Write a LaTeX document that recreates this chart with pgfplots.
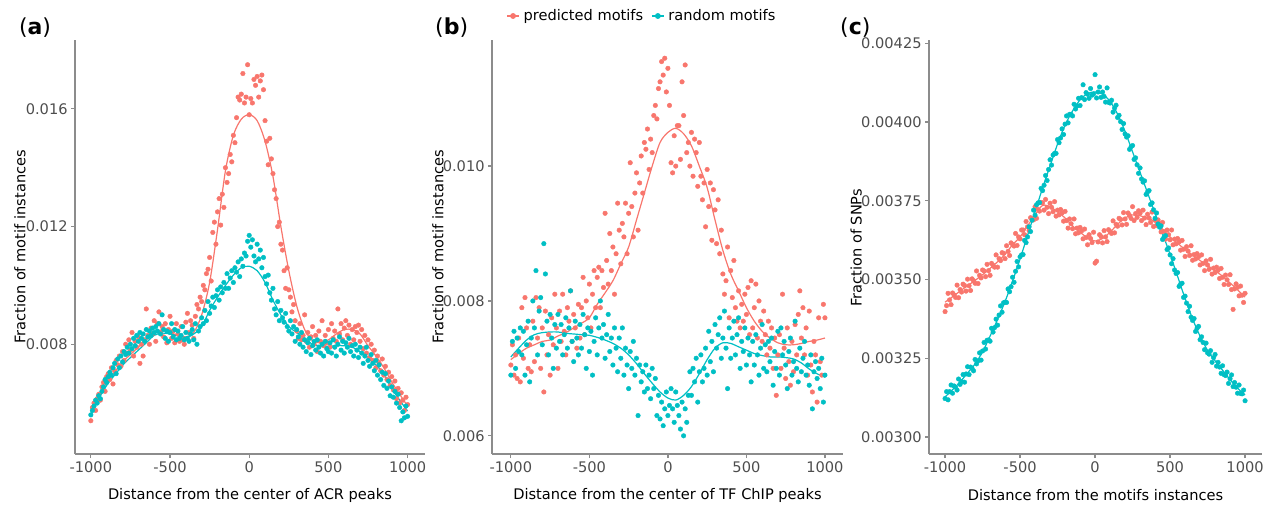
\documentclass[border=0pt]{standalone}
\usepackage{fontspec}
\setmainfont{DejaVu Sans}
\usepackage{pgfplots}
\usepackage{pgfplotstable}
\pgfplotsset{compat=1.18}
\definecolor{pred}{HTML}{F8766D}
\definecolor{rand}{HTML}{00BFC4}
\definecolor{axgray}{HTML}{8C8C8C}
\definecolor{tickgray}{HTML}{4D4D4D}

% panel (a): binned fractions, x p(predicted) r(random)
\pgfplotstableread{
x p r
-1000 0.00540 0.00560
-990 0.00585 0.00575
-980 0.00600 0.00590
-970 0.00575 0.00610
-960 0.00615 0.00600
-950 0.00630 0.00625
-940 0.00610 0.00615
-930 0.00655 0.00640
-920 0.00670 0.00655
-910 0.00640 0.00680
-900 0.00690 0.00670
-890 0.00700 0.00690
-880 0.00680 0.00705
-870 0.00720 0.00695
-860 0.00665 0.00720
-850 0.00710 0.00735
-840 0.00745 0.00700
-830 0.00730 0.00750
-820 0.00760 0.00720
-810 0.00725 0.00760
-800 0.00775 0.00740
-790 0.00745 0.00775
-780 0.00800 0.00765
-770 0.00770 0.00790
-760 0.00815 0.00770
-750 0.00780 0.00800
-740 0.00840 0.00785
-730 0.00760 0.00820
-720 0.00810 0.00795
-710 0.00790 0.00830
-700 0.00825 0.00810
-690 0.00735 0.00840
-680 0.00800 0.00820
-670 0.00760 0.00835
-660 0.00815 0.00810
-650 0.00920 0.00850
-640 0.00830 0.00825
-630 0.00800 0.00845
-620 0.00855 0.00830
-610 0.00835 0.00855
-600 0.00880 0.00840
-590 0.00810 0.00860
-580 0.00870 0.00845
-570 0.00910 0.00870
-560 0.00840 0.00835
-550 0.00860 0.00900
-540 0.00825 0.00850
-530 0.00870 0.00820
-520 0.00805 0.00845
-510 0.00850 0.00810
-500 0.00895 0.00840
-490 0.00820 0.00870
-480 0.00845 0.00825
-470 0.00805 0.00850
-460 0.00870 0.00815
-450 0.00835 0.00845
-440 0.00810 0.00820
-430 0.00860 0.00830
-420 0.00815 0.00860
-410 0.00800 0.00815
-400 0.00875 0.00840
-390 0.00905 0.00820
-380 0.00840 0.00810
-370 0.00880 0.00835
-360 0.00865 0.00850
-350 0.00820 0.00815
-340 0.00895 0.00870
-330 0.00935 0.00800
-320 0.00920 0.00845
-310 0.00960 0.00860
-300 0.00945 0.00890
-290 0.01000 0.00870
-280 0.00985 0.00915
-270 0.01040 0.00880
-260 0.01055 0.00945
-250 0.01095 0.00905
-240 0.01015 0.00930
-230 0.01180 0.00960
-220 0.01215 0.00925
-210 0.01140 0.00965
-200 0.01250 0.00985
-190 0.01295 0.00950
-180 0.01205 0.00995
-170 0.01310 0.00975
-160 0.01265 0.01010
-150 0.01400 0.00990
-140 0.01350 0.01040
-130 0.01380 0.00990
-120 0.01445 0.01025
-110 0.01420 0.01050
-100 0.01510 0.01010
-90 0.01485 0.01060
-80 0.01570 0.01045
-70 0.01640 0.01080
-60 0.01630 0.01030
-50 0.01650 0.01090
-40 0.01720 0.01065
-30 0.01620 0.01110
-20 0.01640 0.01100
-10 0.01750 0.01150
0 0.01580 0.01170
10 0.01635 0.01130
20 0.01620 0.01155
30 0.01700 0.01100
40 0.01680 0.01080
50 0.01710 0.01140
60 0.01640 0.01090
70 0.01695 0.01120
80 0.01715 0.01060
90 0.01665 0.01095
100 0.01560 0.01030
110 0.01490 0.01005
120 0.01410 0.01035
130 0.01500 0.00975
140 0.01430 0.00950
150 0.01380 0.00990
160 0.01325 0.00920
170 0.01295 0.00900
180 0.01200 0.00945
190 0.01215 0.00880
200 0.01140 0.00915
210 0.01120 0.00890
220 0.01050 0.00875
230 0.00990 0.00905
240 0.01060 0.00860
250 0.00985 0.00845
260 0.00960 0.00880
270 0.00910 0.00835
280 0.00935 0.00860
290 0.00880 0.00810
300 0.00845 0.00850
310 0.00820 0.00825
320 0.00870 0.00800
330 0.00815 0.00840
340 0.00830 0.00790
350 0.00900 0.00815
360 0.00810 0.00775
370 0.00840 0.00805
380 0.00790 0.00820
390 0.00825 0.00765
400 0.00860 0.00795
410 0.00800 0.00810
420 0.00830 0.00780
430 0.00775 0.00815
440 0.00845 0.00790
450 0.00810 0.00770
460 0.00880 0.00800
470 0.00795 0.00760
480 0.00830 0.00810
490 0.00805 0.00785
500 0.00850 0.00775
510 0.00790 0.00805
520 0.00870 0.00770
530 0.00820 0.00815
540 0.00845 0.00790
550 0.00810 0.00760
560 0.00920 0.00800
570 0.00835 0.00825
580 0.00870 0.00780
590 0.00815 0.00810
600 0.00855 0.00770
610 0.00880 0.00805
620 0.00830 0.00790
630 0.00865 0.00820
640 0.00800 0.00775
650 0.00850 0.00795
660 0.00815 0.00760
670 0.00860 0.00800
680 0.00840 0.00780
690 0.00865 0.00755
700 0.00810 0.00790
710 0.00850 0.00770
720 0.00785 0.00735
730 0.00830 0.00760
740 0.00770 0.00790
750 0.00815 0.00745
760 0.00755 0.00725
770 0.00800 0.00765
780 0.00745 0.00735
790 0.00780 0.00710
800 0.00720 0.00745
810 0.00760 0.00695
820 0.00735 0.00730
830 0.00710 0.00680
840 0.00750 0.00705
850 0.00695 0.00660
860 0.00725 0.00700
870 0.00680 0.00650
880 0.00705 0.00675
890 0.00660 0.00625
900 0.00690 0.00655
910 0.00645 0.00620
920 0.00675 0.00640
930 0.00615 0.00600
940 0.00650 0.00630
950 0.00600 0.00585
960 0.00635 0.00540
970 0.00610 0.00570
980 0.00575 0.00550
990 0.00620 0.00590
1000 0.00595 0.00555
}\dataA

\pgfplotstableread{
x p r
-1000 0.00580 0.00560
-950 0.00625 0.00615
-900 0.00670 0.00660
-850 0.00705 0.00695
-800 0.00740 0.00728
-750 0.00765 0.00755
-700 0.00790 0.00780
-650 0.00815 0.00805
-600 0.00835 0.00830
-550 0.00850 0.00838
-500 0.00840 0.00835
-450 0.00830 0.00828
-400 0.00825 0.00823
-350 0.00840 0.00835
-300 0.00900 0.00860
-250 0.01010 0.00915
-200 0.01190 0.00960
-150 0.01390 0.01000
-100 0.01510 0.01035
-50 0.01565 0.01060
0 0.01580 0.01065
50 0.01560 0.01050
100 0.01490 0.01010
150 0.01370 0.00950
200 0.01200 0.00900
250 0.01050 0.00860
300 0.00930 0.00840
350 0.00850 0.00820
400 0.00812 0.00800
450 0.00805 0.00795
500 0.00815 0.00793
550 0.00835 0.00795
600 0.00850 0.00795
650 0.00850 0.00790
700 0.00835 0.00775
750 0.00795 0.00755
800 0.00760 0.00730
850 0.00720 0.00700
900 0.00672 0.00650
950 0.00630 0.00610
1000 0.00590 0.00573
}\fitA

% panel (b)
\pgfplotstableread{
x p r
-1000 0.00705 0.00690
-990 0.00735 0.00740
-980 0.00690 0.00755
-970 0.00720 0.00700
-960 0.00685 0.00745
-950 0.00745 0.00725
-940 0.00680 0.00760
-930 0.00790 0.00720
-920 0.00715 0.00755
-910 0.00805 0.00690
-900 0.00760 0.00735
-890 0.00700 0.00770
-880 0.00735 0.00680
-870 0.00695 0.00745
-860 0.00770 0.00800
-850 0.00710 0.00760
-840 0.00805 0.00845
-830 0.00745 0.00720
-820 0.00790 0.00785
-810 0.00700 0.00805
-800 0.00760 0.00735
-790 0.00665 0.00885
-780 0.00785 0.00840
-770 0.00720 0.00770
-760 0.00750 0.00720
-750 0.00690 0.00780
-740 0.00775 0.00745
-730 0.00735 0.00700
-720 0.00810 0.00765
-710 0.00760 0.00730
-700 0.00700 0.00780
-690 0.00785 0.00740
-680 0.00740 0.00765
-670 0.00810 0.00720
-660 0.00755 0.00750
-650 0.00720 0.00775
-640 0.00790 0.00730
-630 0.00770 0.00760
-620 0.00815 0.00815
-610 0.00740 0.00740
-600 0.00780 0.00710
-590 0.00760 0.00770
-580 0.00730 0.00745
-570 0.00795 0.00720
-560 0.00745 0.00765
-550 0.00790 0.00730
-540 0.00835 0.00780
-530 0.00750 0.00750
-520 0.00800 0.00700
-510 0.00775 0.00760
-500 0.00825 0.00725
-490 0.00760 0.00755
-480 0.00810 0.00690
-470 0.00845 0.00740
-460 0.00790 0.00775
-450 0.00835 0.00720
-440 0.00850 0.00760
-430 0.00790 0.00800
-420 0.00845 0.00745
-410 0.00820 0.00765
-400 0.00930 0.00715
-390 0.00860 0.00750
-380 0.00825 0.00780
-370 0.00900 0.00725
-360 0.00845 0.00745
-350 0.00880 0.00705
-340 0.00810 0.00760
-330 0.00870 0.00730
-320 0.00945 0.00695
-310 0.00905 0.00745
-300 0.00855 0.00715
-290 0.00915 0.00760
-280 0.00895 0.00690
-270 0.00945 0.00730
-260 0.00870 0.00705
-250 0.00930 0.00670
-240 0.01005 0.00725
-230 0.00940 0.00700
-220 0.00895 0.00740
-210 0.00960 0.00690
-200 0.00990 0.00715
-190 0.00905 0.00630
-180 0.00975 0.00705
-170 0.01015 0.00680
-160 0.00960 0.00695
-150 0.01035 0.00665
-140 0.01025 0.00705
-130 0.01055 0.00670
-120 0.00995 0.00690
-110 0.01040 0.00655
-100 0.01020 0.00700
-90 0.01075 0.00670
-80 0.01090 0.00685
-70 0.01070 0.00630
-60 0.01115 0.00660
-50 0.01125 0.00625
-40 0.01155 0.00650
-30 0.01135 0.00615
-20 0.01160 0.00640
-10 0.01110 0.00665
0 0.01145 0.00630
10 0.01090 0.00645
20 0.01005 0.00670
30 0.00990 0.00640
40 0.01045 0.00620
50 0.01000 0.00665
60 0.01060 0.00645
70 0.01060 0.00630
80 0.01010 0.00610
90 0.01125 0.00650
100 0.01075 0.00600
110 0.01150 0.00640
120 0.01020 0.00620
130 0.01035 0.00660
140 0.01000 0.00695
150 0.01050 0.00660
160 0.00985 0.00700
170 0.01040 0.00680
180 0.01020 0.00715
190 0.00970 0.00650
200 0.01035 0.00695
210 0.00985 0.00720
220 0.00950 0.00680
230 0.00975 0.00700
240 0.00910 0.00730
250 0.00995 0.00690
260 0.00940 0.00755
270 0.00975 0.00710
280 0.00890 0.00740
290 0.00965 0.00695
300 0.00935 0.00765
310 0.00885 0.00730
320 0.00950 0.00750
330 0.00870 0.00775
340 0.00905 0.00715
350 0.00840 0.00745
360 0.00810 0.00785
370 0.00830 0.00730
380 0.00880 0.00670
390 0.00775 0.00760
400 0.00845 0.00715
410 0.00805 0.00745
420 0.00860 0.00770
430 0.00790 0.00720
440 0.00770 0.00750
450 0.00815 0.00775
460 0.00760 0.00700
470 0.00795 0.00740
480 0.00770 0.00725
490 0.00810 0.00760
500 0.00780 0.00705
510 0.00820 0.00745
520 0.00750 0.00720
530 0.00830 0.00680
540 0.00760 0.00740
550 0.00790 0.00705
560 0.00825 0.00750
570 0.00745 0.00720
580 0.00800 0.00690
590 0.00770 0.00730
600 0.00740 0.00765
610 0.00785 0.00700
620 0.00750 0.00735
630 0.00720 0.00695
640 0.00770 0.00740
650 0.00730 0.00710
660 0.00760 0.00745
670 0.00700 0.00675
680 0.00745 0.00725
690 0.00660 0.00700
700 0.00720 0.00755
710 0.00750 0.00690
720 0.00700 0.00760
730 0.00810 0.00720
740 0.00730 0.00740
750 0.00685 0.00705
760 0.00760 0.00670
770 0.00710 0.00725
780 0.00675 0.00745
790 0.00740 0.00690
800 0.00695 0.00710
810 0.00765 0.00770
820 0.00720 0.00700
830 0.00780 0.00680
840 0.00815 0.00730
850 0.00745 0.00695
860 0.00790 0.00715
870 0.00720 0.00740
880 0.00760 0.00690
890 0.00690 0.00705
900 0.00785 0.00675
910 0.00705 0.00720
920 0.00665 0.00640
930 0.00740 0.00695
940 0.00720 0.00710
950 0.00650 0.00685
960 0.00775 0.00700
970 0.00710 0.00670
980 0.00690 0.00715
990 0.00795 0.00650
1000 0.00775 0.00690
}\dataB

\pgfplotstableread{
x p r
-1000 0.00713 0.00717
-950 0.00722 0.00730
-900 0.00730 0.00742
-850 0.00735 0.00750
-800 0.00740 0.00753
-750 0.00742 0.00754
-700 0.00748 0.00754
-650 0.00753 0.00752
-600 0.00760 0.00751
-550 0.00767 0.00750
-500 0.00775 0.00749
-450 0.00795 0.00746
-400 0.00812 0.00742
-350 0.00830 0.00737
-300 0.00855 0.00730
-250 0.00880 0.00720
-200 0.00920 0.00707
-150 0.00960 0.00692
-100 0.01000 0.00678
-50 0.01035 0.00665
0 0.01050 0.00656
50 0.01056 0.00653
100 0.01048 0.00660
150 0.01030 0.00673
200 0.01000 0.00692
250 0.00968 0.00713
300 0.00920 0.00730
350 0.00875 0.00738
400 0.00840 0.00737
450 0.00815 0.00732
500 0.00790 0.00727
550 0.00770 0.00722
600 0.00755 0.00719
650 0.00745 0.00717
700 0.00738 0.00717
750 0.00735 0.00716
800 0.00735 0.00714
850 0.00737 0.00708
900 0.00740 0.00699
950 0.00742 0.00692
1000 0.00745 0.00687
}\fitB

% panel (c)
\pgfplotstableread{
x p r
-1000 0.003398 0.003122
-990 0.003417 0.003144
-980 0.003456 0.003118
-970 0.003435 0.003144
-960 0.003420 0.003165
-950 0.003457 0.003139
-940 0.003451 0.003162
-930 0.003443 0.003158
-920 0.003482 0.003149
-910 0.003442 0.003184
-900 0.003468 0.003167
-890 0.003460 0.003176
-880 0.003485 0.003198
-870 0.003481 0.003174
-860 0.003463 0.003200
-850 0.003501 0.003223
-840 0.003480 0.003198
-830 0.003465 0.003222
-820 0.003502 0.003218
-810 0.003496 0.003210
-800 0.003488 0.003246
-790 0.003527 0.003232
-780 0.003487 0.003242
-770 0.003513 0.003267
-760 0.003505 0.003244
-750 0.003530 0.003273
-740 0.003527 0.003300
-730 0.003509 0.003279
-720 0.003548 0.003307
-710 0.003528 0.003308
-700 0.003513 0.003304
-690 0.003551 0.003345
-680 0.003545 0.003333
-670 0.003539 0.003347
-660 0.003578 0.003374
-650 0.003539 0.003355
-640 0.003566 0.003387
-630 0.003560 0.003416
-620 0.003585 0.003396
-610 0.003583 0.003426
-600 0.003566 0.003428
-590 0.003607 0.003427
-580 0.003589 0.003470
-570 0.003576 0.003461
-560 0.003616 0.003477
-550 0.003612 0.003507
-540 0.003606 0.003491
-530 0.003646 0.003526
-520 0.003608 0.003557
-510 0.003635 0.003540
-500 0.003629 0.003572
-490 0.003657 0.003578
-480 0.003657 0.003579
-470 0.003642 0.003624
-460 0.003684 0.003617
-450 0.003667 0.003635
-440 0.003655 0.003667
-430 0.003696 0.003652
-420 0.003693 0.003688
-410 0.003689 0.003720
-400 0.003731 0.003704
-390 0.003694 0.003737
-380 0.003722 0.003743
-370 0.003717 0.003744
-360 0.003744 0.003789
-350 0.003743 0.003782
-340 0.003720 0.003799
-330 0.003754 0.003830
-320 0.003729 0.003814
-310 0.003709 0.003849
-300 0.003742 0.003880
-290 0.003729 0.003863
-280 0.003715 0.003895
-270 0.003747 0.003900
-260 0.003701 0.003900
-250 0.003720 0.003944
-240 0.003705 0.003934
-230 0.003722 0.003949
-220 0.003711 0.003978
-210 0.003685 0.003960
-200 0.003716 0.003993
-190 0.003687 0.004019
-180 0.003663 0.003997
-170 0.003692 0.004024
-160 0.003677 0.004024
-150 0.003661 0.004019
-140 0.003692 0.004056
-130 0.003645 0.004041
-120 0.003663 0.004051
-110 0.003648 0.004075
-100 0.003665 0.004052
-90 0.003654 0.004077
-80 0.003629 0.004118
-70 0.003660 0.004071
-60 0.003633 0.004093
-50 0.003610 0.004088
-40 0.003642 0.004075
-30 0.003630 0.004106
-20 0.003617 0.004085
-10 0.003650 0.004089
0 0.003552 0.004150
10 0.003558 0.004076
20 0.003619 0.004095
30 0.003642 0.004111
40 0.003636 0.004078
50 0.003616 0.004095
60 0.003655 0.004081
70 0.003635 0.004063
80 0.003620 0.004108
90 0.003658 0.004062
100 0.003652 0.004060
110 0.003646 0.004069
120 0.003686 0.004031
130 0.003648 0.004044
140 0.003675 0.004053
150 0.003669 0.004014
160 0.003694 0.004021
170 0.003691 0.004001
180 0.003673 0.003976
190 0.003712 0.003995
200 0.003692 0.003962
210 0.003675 0.003952
220 0.003711 0.003956
230 0.003703 0.003913
240 0.003694 0.003921
250 0.003731 0.003925
260 0.003687 0.003881
270 0.003709 0.003886
280 0.003697 0.003864
290 0.003718 0.003837
300 0.003710 0.003854
310 0.003687 0.003819
320 0.003720 0.003809
330 0.003695 0.003813
340 0.003674 0.003770
350 0.003707 0.003778
360 0.003695 0.003782
370 0.003681 0.003738
380 0.003714 0.003743
390 0.003668 0.003721
400 0.003688 0.003694
410 0.003672 0.003711
420 0.003689 0.003676
430 0.003677 0.003666
440 0.003651 0.003670
450 0.003681 0.003627
460 0.003652 0.003635
470 0.003628 0.003639
480 0.003657 0.003595
490 0.003642 0.003600
500 0.003626 0.003578
510 0.003657 0.003550
520 0.003610 0.003566
530 0.003628 0.003530
540 0.003613 0.003519
550 0.003630 0.003522
560 0.003619 0.003478
570 0.003593 0.003485
580 0.003624 0.003488
590 0.003596 0.003443
600 0.003573 0.003447
610 0.003604 0.003425
620 0.003590 0.003398
630 0.003576 0.003415
640 0.003607 0.003380
650 0.003561 0.003370
660 0.003579 0.003376
670 0.003565 0.003335
680 0.003582 0.003345
690 0.003572 0.003351
700 0.003546 0.003309
710 0.003578 0.003318
720 0.003551 0.003300
730 0.003528 0.003277
740 0.003559 0.003298
750 0.003546 0.003267
760 0.003532 0.003263
770 0.003564 0.003274
780 0.003517 0.003237
790 0.003536 0.003252
800 0.003522 0.003262
810 0.003539 0.003225
820 0.003529 0.003237
830 0.003503 0.003222
840 0.003535 0.003202
850 0.003507 0.003226
860 0.003484 0.003198
870 0.003514 0.003195
880 0.003499 0.003206
890 0.003484 0.003170
900 0.003515 0.003185
910 0.003468 0.003197
920 0.003405 0.003160
930 0.003470 0.003173
940 0.003486 0.003158
950 0.003475 0.003139
960 0.003448 0.003165
970 0.003479 0.003138
980 0.003450 0.003137
990 0.003427 0.003149
1000 0.003456 0.003115
}\dataC

\pgfplotstableread{
x p r
-1000 0.003428 0.003127
-950 0.003445 0.003150
-900 0.003463 0.003175
-850 0.003480 0.003203
-800 0.003497 0.003232
-750 0.003515 0.003270
-700 0.003535 0.003320
-650 0.003556 0.003373
-600 0.003580 0.003430
-550 0.003610 0.003495
-500 0.003635 0.003565
-450 0.003670 0.003640
-400 0.003705 0.003715
-350 0.003735 0.003790
-300 0.003730 0.003860
-250 0.003715 0.003930
-200 0.003695 0.003990
-150 0.003670 0.004035
-100 0.003650 0.004070
-50 0.003632 0.004090
0 0.003622 0.004095
50 0.003630 0.004088
100 0.003650 0.004065
150 0.003675 0.004025
200 0.003695 0.003970
250 0.003705 0.003905
300 0.003702 0.003840
350 0.003695 0.003775
400 0.003683 0.003710
450 0.003660 0.003645
500 0.003635 0.003580
550 0.003615 0.003510
600 0.003595 0.003440
650 0.003578 0.003375
700 0.003560 0.003320
750 0.003544 0.003275
800 0.003528 0.003242
850 0.003510 0.003212
900 0.003489 0.003182
950 0.003467 0.003155
1000 0.003444 0.003133
}\fitC

\pgfplotsset{
  panel/.style={
    scale only axis, anchor=south west, height=207pt,
    axis x line*=bottom, axis y line*=left,
    axis line style={axgray, line width=0.6pt},
    tick style={axgray, line width=0.6pt},
    major tick length=2pt,
    tick align=outside,
    xtick={-1000,-500,0,500,1000},
    ticklabel style={font=\fontsize{7.3}{8}\selectfont, text=tickgray, inner sep=1.5pt},
    label style={font=\fontsize{7.3}{8}\selectfont},
    /pgf/number format/assume math mode=true,
    /pgf/number format/1000 sep={},
    scaled y ticks=false,
    yticklabel style={/pgf/number format/fixed, /pgf/number format/fixed zerofill},
    xlabel style={at={(axis description cs:0.5,-0.099)}, anchor=center},
    clip=false,
  },
  pts/.style={only marks, mark=*, mark size=1.15pt, color=#1, mark options={fill=#1, draw=#1, line width=0.2pt}},
  fit/.style={no marks, smooth, color=#1, line width=0.6pt},
}

\begin{document}
\begin{tikzpicture}
\path[use as bounding box] (0,0) rectangle (634pt,252.5pt);

% (a)
\begin{axis}[panel, at={(37.5pt,25.5pt)}, width=175pt,
  xmin=-1100, xmax=1110, ymin=0.00427, ymax=0.01834,
  ytick={0.008,0.012,0.016},
  yticklabel style={/pgf/number format/precision=3},
  xlabel={Distance from the center of ACR peaks},
  ylabel={Fraction of motif instances},
  ylabel style={at={(axis description cs:-0.157,0.5)}, anchor=center}]
\addplot[pts=pred] table[x=x, y=p] {\dataA};
\addplot[pts=rand] table[x=x, y=r] {\dataA};
\addplot[fit=pred] table[x=x, y=p] {\fitA};
\addplot[fit=rand] table[x=x, y=r] {\fitA};
\node[anchor=west, font=\fontsize{11}{12}\selectfont] at (rel axis cs:-0.18,1.03) {(\textbf{a})};
\end{axis}

% (b)
\begin{axis}[panel, at={(246pt,25.5pt)}, width=175.5pt,
  xmin=-1120, xmax=1115, ymin=0.00573, ymax=0.01187,
  ytick={0.006,0.008,0.010},
  yticklabel style={/pgf/number format/precision=3},
  xlabel={Distance from the center of TF ChIP peaks},
  ylabel={Fraction of motif instances},
  ylabel style={at={(axis description cs:-0.154,0.5)}, anchor=center},
  legend style={at={(axis description cs:0.43,1.058)}, anchor=center,
    draw=none, fill=none, legend columns=2,
    font=\fontsize{7.3}{8}\selectfont,
    /tikz/every even column/.append style={column sep=2pt}},
  legend image code/.code={\draw[mark repeat=2, mark phase=2, #1] plot coordinates {(0pt,0pt) (3pt,0pt) (6pt,0pt)};}]
\addlegendimage{color=pred, line width=0.6pt, mark=*, mark size=1.15pt}
\addlegendimage{color=rand, line width=0.6pt, mark=*, mark size=1.15pt}
\addplot[pts=pred, forget plot] table[x=x, y=p] {\dataB};
\addplot[pts=rand, forget plot] table[x=x, y=r] {\dataB};
\addplot[fit=pred, forget plot] table[x=x, y=p] {\fitB};
\addplot[fit=rand, forget plot] table[x=x, y=r] {\fitB};
\legend{predicted motifs, random motifs}
\node[anchor=west, font=\fontsize{11}{12}\selectfont] at (rel axis cs:-0.182,1.03) {(\textbf{b})};
\end{axis}

% (c)
\begin{axis}[panel, at={(464.5pt,25.5pt)}, width=166.5pt,
  xmin=-1107, xmax=1113, ymin=0.002946, ymax=0.00426,
  ytick={0.003,0.00325,0.0035,0.00375,0.004,0.00425},
  yticklabel style={/pgf/number format/precision=5},
  xlabel={Distance from the motifs instances},
  ylabel={Fraction of SNPs},
  ylabel style={at={(axis description cs:-0.219,0.498)}, anchor=center}]
\addplot[pts=pred] table[x=x, y=p] {\dataC};
\addplot[pts=rand] table[x=x, y=r] {\dataC};
\addplot[fit=pred] table[x=x, y=p] {\fitC};
\addplot[fit=rand] table[x=x, y=r] {\fitC};
\node[anchor=west, font=\fontsize{11}{12}\selectfont] at (rel axis cs:-0.288,1.03) {(\textbf{c})};
\end{axis}
\end{tikzpicture}
\end{document}
